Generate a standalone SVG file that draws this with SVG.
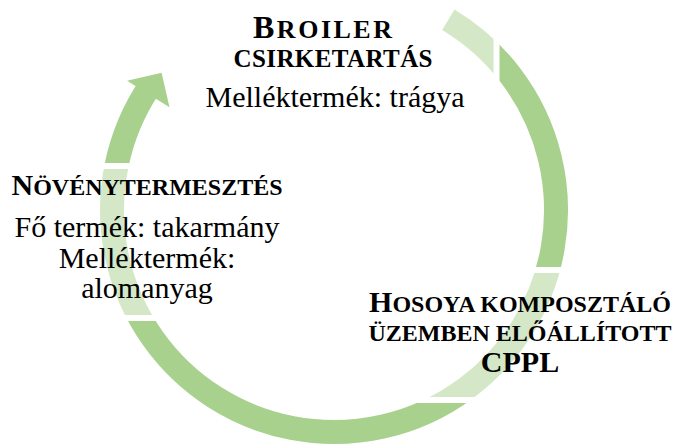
<svg xmlns="http://www.w3.org/2000/svg" width="678" height="445" viewBox="0 0 678 445">
  <style>
    .ring { fill: none; stroke: #A9D18E; stroke-width: 24; stroke-linecap: butt; }
    .head { fill: #A9D18E; }
    .box { fill: #FFFFFF; fill-opacity: 0.5; stroke: #FFFFFF; stroke-width: 6; }
    text { font-family: "Liberation Serif", "Times New Roman", serif; fill: #000000; text-anchor: middle; font-size: 30px; }
    .t { font-weight: bold; }
    .sc { font-size: 24px; }
    .cap-l { font-size: 32px; }
    .sc-l { font-size: 26px; }
    .sc-m { font-size: 25px; }
  </style>
  <rect width="678" height="445" fill="#FFFFFF"/>

  <!-- circular arrow: centre (334,210), mid radius 222 -->
  <g id="connectors">
    <path class="ring" d="M448.3,19.7 A222,222 0 1 1 148.9,87.5"/>
    <polygon class="head" points="127.1,80.7 161.6,72.8 169.5,107.2"/>
  </g>

  <g id="node-broiler">
    <rect class="box" x="175" y="-10" width="321.5" height="130"/>
    <text class="t cap-l" x="322.5" y="37.5" textLength="139" lengthAdjust="spacing">B<tspan class="sc-l">ROILER</tspan></text>
    <text class="t sc-m" x="333" y="67" textLength="199" lengthAdjust="spacing">CSIRKETARTÁS</text>
    <text x="335" y="107">Melléktermék: trágya</text>
  </g>

  <g id="node-novenytermesztes">
    <rect class="box" x="2" y="166" width="290" height="152"/>
    <text class="t" x="147" y="195">N<tspan class="sc">ÖVÉNYTERMESZTÉS</tspan></text>
    <text x="147" y="237">Fő termék: takarmány</text>
    <text x="147" y="268">Melléktermék:</text>
    <text x="147" y="298">alomanyag</text>
  </g>

  <g id="node-cppl">
    <rect class="box" x="362" y="270" width="320" height="130"/>
    <text class="t" x="520" y="312">H<tspan class="sc">OSOYA KOMPOSZTÁLÓ</tspan></text>
    <text class="t sc" x="520" y="341">ÜZEMBEN ELŐÁLLÍTOTT</text>
    <text class="t" x="520" y="372">CPPL</text>
  </g>
</svg>
